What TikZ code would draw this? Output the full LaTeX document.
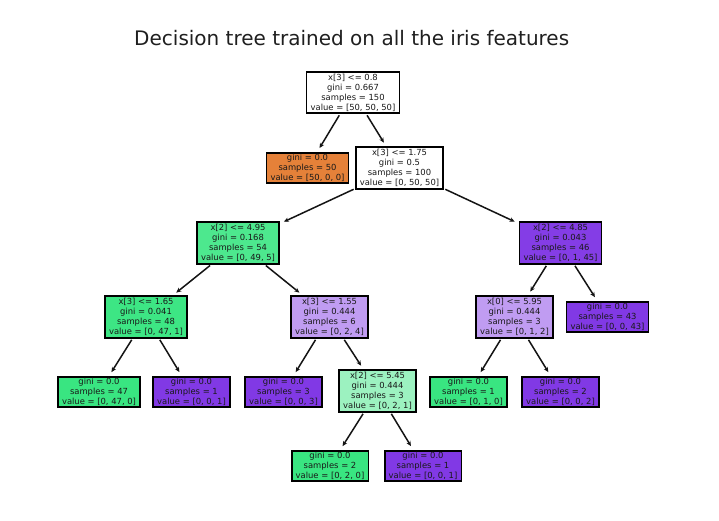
\documentclass[tikz,border=0pt]{standalone}
\usepackage{fontspec}
\setmainfont{DejaVu Sans}
\usetikzlibrary{arrows.meta}
\definecolor{corange}{RGB}{229,129,57}
\definecolor{cgreen}{RGB}{57,229,129}
\definecolor{cpurple}{RGB}{129,57,229}
\definecolor{cgreenA}{RGB}{77,232,142}
\definecolor{cgreenB}{RGB}{61,230,132}
\definecolor{cgreenC}{RGB}{156,242,192}
\definecolor{cpurpleA}{RGB}{132,61,230}
\definecolor{cpurpleC}{RGB}{192,156,242}
\definecolor{edgecol}{RGB}{20,20,20}
\tikzset{
  tn/.style={draw=black, line width=1.6pt, rectangle, align=center,
    inner xsep=4pt, inner ysep=1pt,
    font=\fontsize{8.4}{10}\selectfont, text=black!90},
  split/.style={tn, minimum height=41.5pt},
  leaf/.style={tn, minimum height=30.5pt},
  edge/.style={draw=edgecol, line width=1.5pt, -{Stealth[length=5pt,width=4.5pt]},
    shorten <=1.5pt, shorten >=4.5pt},
  ttl/.style={font=\fontsize{20}{24}\selectfont, text=black!88, anchor=base, inner sep=0pt}
}
\begin{document}
\begin{tikzpicture}[x=1pt,y=-1pt]
\useasboundingbox[fill=white] (0,0) rectangle (719,521);
\node[ttl] (title) at (351.7,45.7) {Decision tree trained on all the iris features};

\node[split, fill=white] (n0) at (353,92.5) {x[3] <= 0.8\\gini = 0.667\\samples = 150\\value = [50, 50, 50]};
\node[leaf, fill=corange] (n1) at (307.5,168) {gini = 0.0\\samples = 50\\value = [50, 0, 0]};
\node[split, fill=white] (n2) at (399.5,168) {x[3] <= 1.75\\gini = 0.5\\samples = 100\\value = [0, 50, 50]};

\node[split, fill=cgreenA] (n3) at (238,243) {x[2] <= 4.95\\gini = 0.168\\samples = 54\\value = [0, 49, 5]};
\node[split, fill=cpurpleA] (n12) at (560.5,243) {x[2] <= 4.85\\gini = 0.043\\samples = 46\\value = [0, 1, 45]};

\node[split, fill=cgreenB] (n4) at (146,317) {x[3] <= 1.65\\gini = 0.041\\samples = 48\\value = [0, 47, 1]};
\node[split, fill=cpurpleC] (n7) at (329.5,317) {x[3] <= 1.55\\gini = 0.444\\samples = 6\\value = [0, 2, 4]};
\node[split, fill=cpurpleC] (n13) at (514.5,317) {x[0] <= 5.95\\gini = 0.444\\samples = 3\\value = [0, 1, 2]};
\node[leaf, fill=cpurple] (n16) at (607.5,317) {gini = 0.0\\samples = 43\\value = [0, 0, 43]};

\node[leaf, fill=cgreen] (n5) at (99,392) {gini = 0.0\\samples = 47\\value = [0, 47, 0]};
\node[leaf, fill=cpurple] (n6) at (191.5,392) {gini = 0.0\\samples = 1\\value = [0, 0, 1]};
\node[leaf, fill=cpurple] (n8) at (283.5,392) {gini = 0.0\\samples = 3\\value = [0, 0, 3]};
\node[split, fill=cgreenC] (n9) at (377.5,391) {x[2] <= 5.45\\gini = 0.444\\samples = 3\\value = [0, 2, 1]};
\node[leaf, fill=cgreen] (n14) at (468.5,392) {gini = 0.0\\samples = 1\\value = [0, 1, 0]};
\node[leaf, fill=cpurple] (n15) at (560.5,392) {gini = 0.0\\samples = 2\\value = [0, 0, 2]};

\node[leaf, fill=cgreen] (n10) at (330,466) {gini = 0.0\\samples = 2\\value = [0, 2, 0]};
\node[leaf, fill=cpurple] (n11) at (423,466) {gini = 0.0\\samples = 1\\value = [0, 0, 1]};

\draw[edge] (n0) -- (n1);
\draw[edge] (n0) -- (n2);
\draw[edge] (n2) -- (n3);
\draw[edge] (n2) -- (n12);
\draw[edge] (n3) -- (n4);
\draw[edge] (n3) -- (n7);
\draw[edge] (n4) -- (n5);
\draw[edge] (n4) -- (n6);
\draw[edge] (n7) -- (n8);
\draw[edge] (n7) -- (n9);
\draw[edge] (n9) -- (n10);
\draw[edge] (n9) -- (n11);
\draw[edge] (n12) -- (n13);
\draw[edge] (n12) -- (n16);
\draw[edge] (n13) -- (n14);
\draw[edge] (n13) -- (n15);
\end{tikzpicture}
\end{document}
